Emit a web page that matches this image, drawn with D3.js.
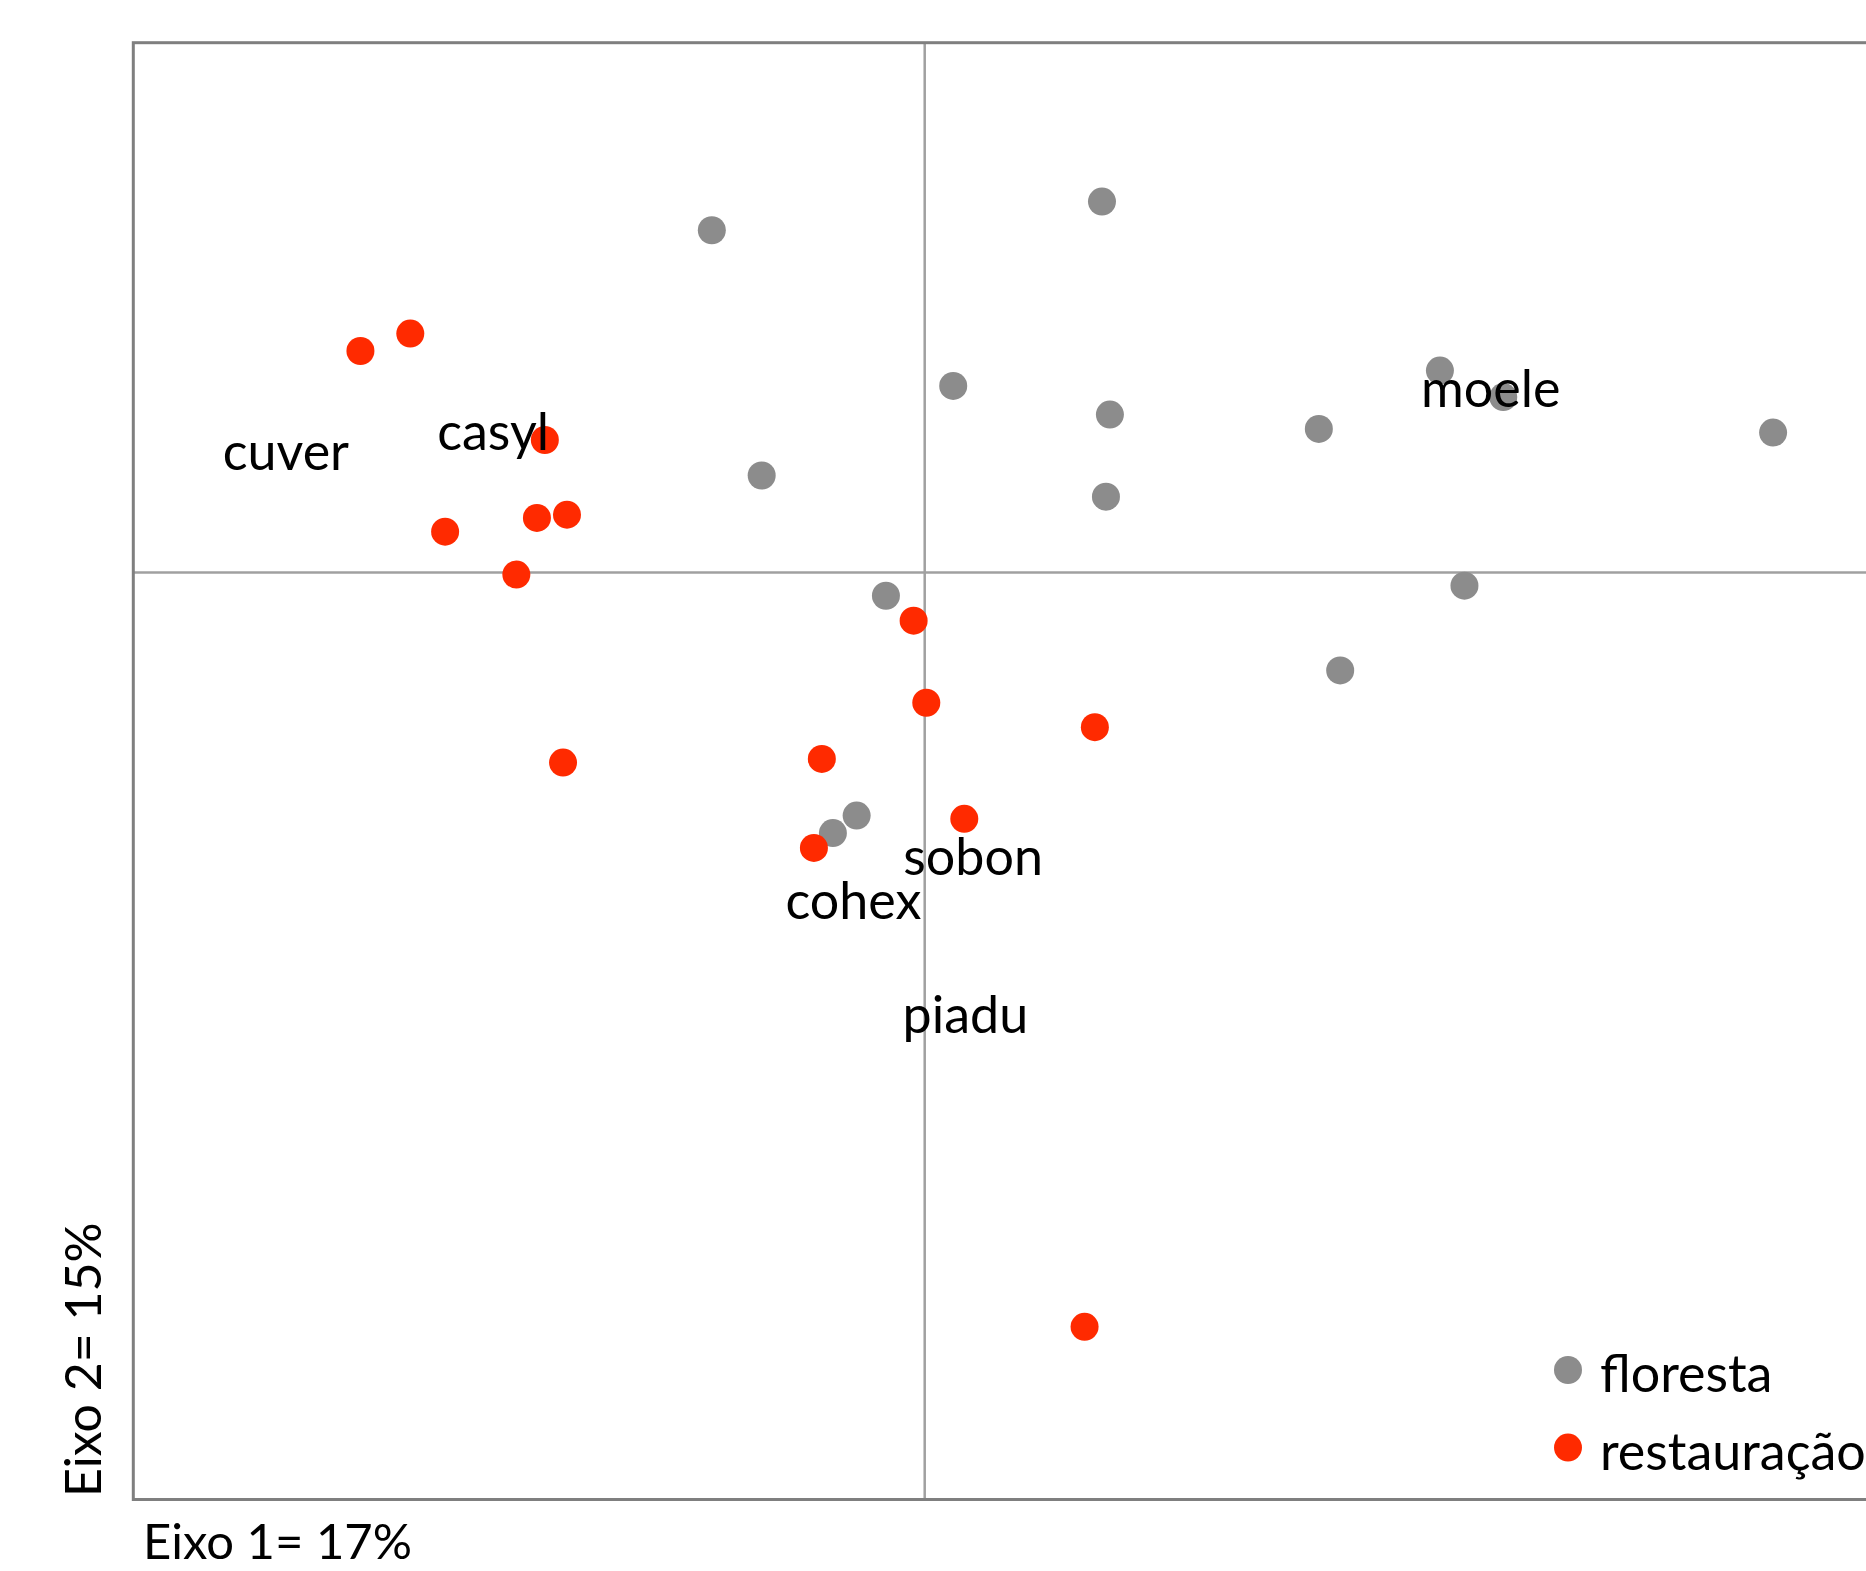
<!DOCTYPE html>
<html>
<head>
<meta charset="utf-8">
<script src="https://cdn.jsdelivr.net/npm/d3@7"></script>
<style>
    body { margin: 0; background: #fff; }
    text { font-family: Lato, "Open Sans", sans-serif; fill: #000; }
</style>
</head>
<body>
<div id="chart"></div>
<script>
// ordination scores (axis 1, axis 2)
const floresta_x = [-0.269, 0.224, 0.036, 0.234, 0.229, -0.206, 0.498, 0.651, 0.731, 1.072, 0.682, 0.525, -0.049, -0.086, -0.116];
const floresta_y = [0.646, 0.700, 0.352, 0.298, 0.143, 0.183, 0.271, 0.381, 0.331, 0.264, -0.025, -0.185, -0.044, -0.459, -0.492];

const restauracao_x = [-0.713, -0.650, -0.480, -0.490, -0.452, -0.606, -0.516, -0.014, 0.002, 0.215, -0.130, -0.457, 0.050, -0.140, 0.202];
const restauracao_y = [0.418, 0.451, 0.250, 0.103, 0.109, 0.077, -0.004, -0.091, -0.246, -0.292, -0.352, -0.359, -0.465, -0.520, -1.424];

// species labels (start of text, axis units)
const species_names = ["cuver", "casyl", "moele", "sobon", "cohex", "piadu"];
const species_x = [-0.887, -0.616, 0.627, -0.027, -0.176, -0.028];
const species_y = [0.193, 0.231, 0.312, -0.571, -0.655, -0.869];

const groups = ["floresta", "restauração"];
const group_colors = ["#8c8c8c", "#ff2a00"];

const axis1_label = "Eixo 1= 17%";
const axis2_label = "Eixo 2= 15%";

const width = 1866;
const height = 1571;
const margin = { top: 42.7, right: -8.4, bottom: 71.5, left: 133.3 };

const font_size = 52;
const r = 14;

function drawChart(htmlID) {

    let svg = d3.select("#" + htmlID)
        .append("svg")
        .attr("width", width)
        .attr("height", height);

    let x = d3.scaleLinear()
        .domain([-1, 1.2])
        .range([margin.left, width - margin.right]);

    let y = d3.scaleLinear()
        .domain([-1.75, 1])
        .range([height - margin.bottom, margin.top]);

    // zero lines
    svg.append("line")
        .attr("x1", x(0)).attr("x2", x(0))
        .attr("y1", y.range()[0]).attr("y2", y.range()[1])
        .attr("stroke", "#a0a0a0")
        .attr("stroke-width", 2.5);

    svg.append("line")
        .attr("x1", x.range()[0]).attr("x2", x.range()[1])
        .attr("y1", y(0)).attr("y2", y(0))
        .attr("stroke", "#a0a0a0")
        .attr("stroke-width", 2.5);

    // frame
    svg.append("rect")
        .attr("x", x.range()[0])
        .attr("y", y.range()[1])
        .attr("width", x.range()[1] - x.range()[0])
        .attr("height", y.range()[0] - y.range()[1])
        .attr("fill", "none")
        .attr("stroke", "#7f7f7f")
        .attr("stroke-width", 3);

    let sites = [];
    floresta_x.forEach((v, i) => sites.push({ x: v, y: floresta_y[i], g: 0 }));
    restauracao_x.forEach((v, i) => sites.push({ x: v, y: restauracao_y[i], g: 1 }));

    svg.selectAll(".site")
        .data(sites)
        .join("circle")
        .attr("class", "site")
        .attr("cx", d => x(d.x))
        .attr("cy", d => y(d.y))
        .attr("r", r)
        .attr("fill", d => group_colors[d.g]);

    // species names
    svg.selectAll(".species")
        .data(species_names)
        .join("text")
        .attr("class", "species")
        .attr("x", (d, i) => x(species_x[i]))
        .attr("y", (d, i) => y(species_y[i]))
        .attr("font-size", font_size)
        .text(d => d);

    // legend
    let legend = svg.append("g")
        .attr("transform", "translate(1568, 1370)");

    legend.selectAll("circle")
        .data(groups)
        .join("circle")
        .attr("cx", 0)
        .attr("cy", (d, i) => i * 77.6)
        .attr("r", r)
        .attr("fill", (d, i) => group_colors[i]);

    legend.selectAll("text")
        .data(groups)
        .join("text")
        .attr("x", 32)
        .attr("y", (d, i) => i * 77.6 + 22)
        .attr("font-size", font_size)
        .text(d => d);

    // axis titles
    svg.append("text")
        .attr("x", 143)
        .attr("y", 1559)
        .attr("font-size", 49)
        .text(axis1_label);

    svg.append("text")
        .attr("transform", "translate(100.7, 1497) rotate(-90)")
        .attr("font-size", 50)
        .text(axis2_label);
}

drawChart("chart");
</script>
</body>
</html>
